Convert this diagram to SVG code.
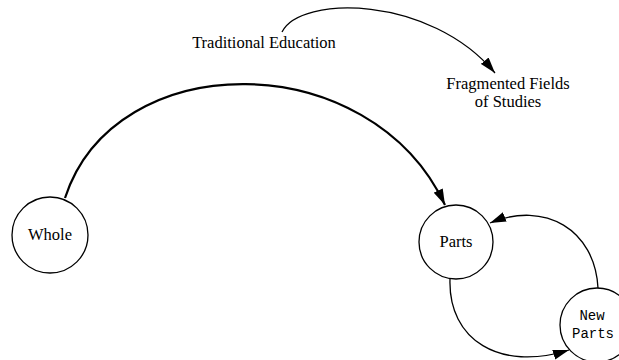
<svg xmlns="http://www.w3.org/2000/svg" width="619" height="360" viewBox="0 0 619 360">
<style>
.n{fill:#fff;stroke:#000;stroke-width:1.3}
.t{font-family:"Liberation Serif",serif;font-size:16.5px;fill:#000;text-anchor:middle}
.m{font-family:"Liberation Mono",monospace;font-size:14px;fill:#000;text-anchor:middle}
.c{fill:none;stroke:#000}
</style>
<defs>
<marker id="ah" viewBox="0 0 16 10" refX="16" refY="5" markerWidth="16" markerHeight="10" markerUnits="userSpaceOnUse" orient="auto"><path d="M0,0 L16,5 L0,10 z" fill="#000"/></marker>
</defs>
<rect width="619" height="360" fill="#fff"/>
<g id="whole"><circle class="n" cx="50" cy="235" r="38"/><text class="t" x="50" y="240">Whole</text></g>
<g id="parts"><circle class="n" cx="456" cy="242" r="37"/><text class="t" x="456" y="247">Parts</text></g>
<g id="newparts"><circle class="n" cx="597" cy="325" r="37"/><text class="m" x="592" y="320">New</text><text class="m" x="593" y="338">Parts</text></g>
<g id="traditional"><text class="t" x="264" y="48">Traditional Education</text></g>
<g id="fragmented"><text class="t" x="508" y="89">Fragmented Fields</text><text class="t" x="508" y="107">of Studies</text></g>
<g id="connectors">
<path class="c" stroke-width="1.3" d="M282,32 C300,-5 430,-5 495,73" marker-end="url(#ah)"/>
<path class="c" stroke-width="2.2" d="M65,198 C115,45 370,45 445,205" marker-end="url(#ah)"/>
<path class="c" stroke-width="1.3" d="M450,279 C448,340 500,372 569,350" marker-end="url(#ah)"/>
<path class="c" stroke-width="1.3" d="M598,288 C595,230 545,200 490,223" marker-end="url(#ah)"/>
</g>
</svg>
